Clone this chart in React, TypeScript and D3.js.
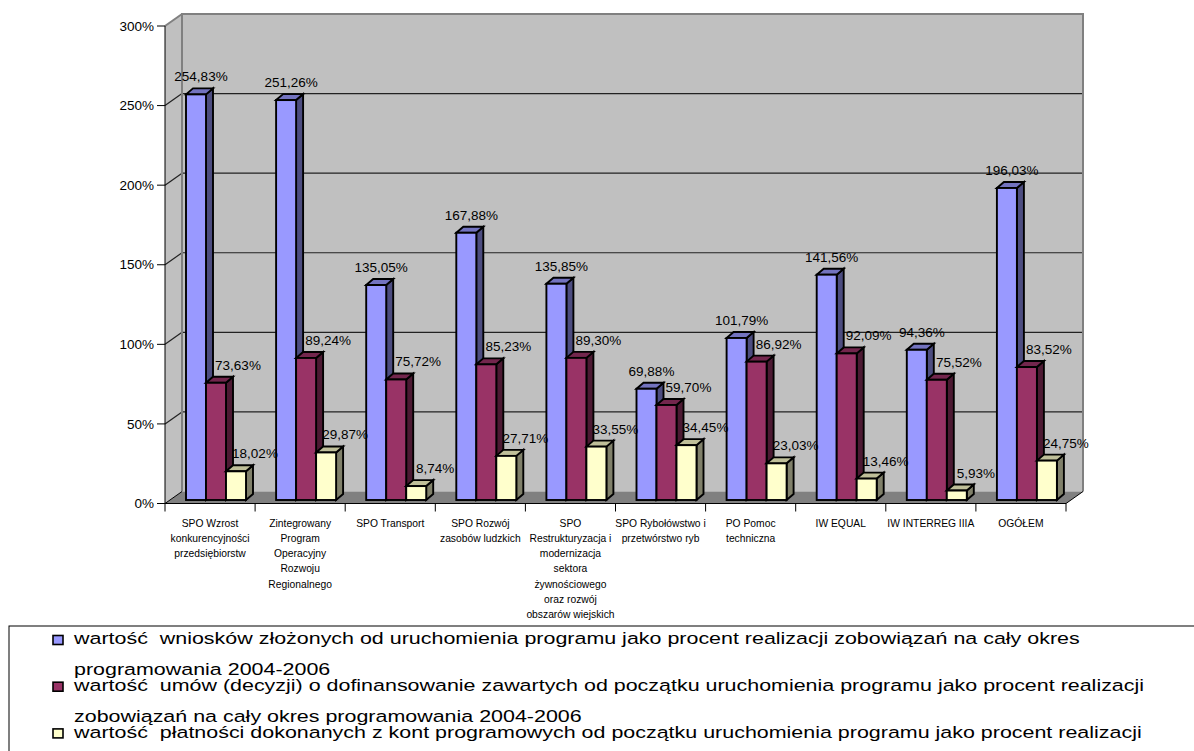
import React from 'react';
import * as d3 from 'd3';

// ---------- data ----------
const categories: string[][] = [
  ['SPO Wzrost', 'konkurencyjności', 'przedsiębiorstw'],
  ['Zintegrowany', 'Program', 'Operacyjny', 'Rozwoju', 'Regionalnego'],
  ['SPO Transport'],
  ['SPO Rozwój', 'zasobów ludzkich'],
  ['SPO', 'Restrukturyzacja i', 'modernizacja', 'sektora', 'żywnościowego', 'oraz rozwój', 'obszarów wiejskich'],
  ['SPO Rybołówstwo i', 'przetwórstwo ryb'],
  ['PO Pomoc', 'techniczna'],
  ['IW EQUAL'],
  ['IW INTERREG IIIA'],
  ['OGÓŁEM'],
];

const wnioski = [254.83, 251.26, 135.05, 167.88, 135.85, 69.88, 101.79, 141.56, 94.36, 196.03];
const umowy = [73.63, 89.24, 75.72, 85.23, 89.3, 59.7, 86.92, 92.09, 75.52, 83.52];
const platnosci = [18.02, 29.87, 8.74, 27.71, 33.55, 34.45, 23.03, 13.46, 5.93, 24.75];

const yTicks = [0, 50, 100, 150, 200, 250, 300];

const legendLines: string[][] = [
  ['wartość  wniosków złożonych od uruchomienia programu jako procent realizacji zobowiązań na cały okres', 'programowania 2004-2006'],
  ['wartość  umów (decyzji) o dofinansowanie zawartych od początku uruchomienia programu jako procent realizacji', 'zobowiązań na cały okres programowania 2004-2006'],
  ['wartość  płatności dokonanych z kont programowych od początku uruchomienia programu jako procent realizacji'],
];

// ---------- styles ----------
const seriesStyles = [
  { front: '#9999FF', top: '#7373BF', side: '#4D4D80', labelDx: 5 },
  { front: '#993366', top: '#73264D', side: '#4D1A33', labelDx: 22 },
  { front: '#FFFFCC', top: '#BFBF99', side: '#80806A', labelDx: 19 },
];

const W = 1194;
const H = 751;
const X0 = 165;
const X1 = 1066;
const DX = 17;
const DY = 12;
const Y_TOP = 26;
const Y_BASE = 503.5;
const BAR_BASE = 500;
const BDX = 7;
const BDY = 6;
const FONT = '"Liberation Sans", Arial, Helvetica, sans-serif';

export default function App() {
  const series = [wnioski, umowy, platnosci];
  const idx = d3.range(categories.length);
  const x = d3.scaleBand<number>().domain(idx).range([X0, X1]).padding(0);
  const yAxis = d3.scaleLinear().domain([0, 300]).range([Y_BASE, Y_TOP]);
  const yBar = d3.scaleLinear().domain([0, 300]).range([BAR_BASE, BAR_BASE - (Y_BASE - Y_TOP)]);
  const inner = d3.scaleBand<number>().domain([0, 1, 2]).range([21, 81]).padding(0);
  const bw = inner.bandwidth();
  const fmt = (v: number) => d3.format('.2f')(v).replace('.', ',') + '%';

  const backTop = Y_TOP - DY;
  const backBottom = Y_BASE - DY;
  const backLeft = X0 + DX;
  const backRight = X1 + DX;

  const bars: React.ReactNode[] = [];
  const labels: React.ReactNode[] = [];
  idx.forEach((i) => {
    series.forEach((vals, s) => {
      const v = vals[i];
      const st = seriesStyles[s];
      const xl = (x(i) as number) + (inner(s) as number);
      const yt = yBar(v);
      const yb = BAR_BASE;
      const topPts = [
        [xl, yt],
        [xl + BDX, yt - BDY],
        [xl + bw + BDX, yt - BDY],
        [xl + bw, yt],
      ];
      const sidePts = [
        [xl + bw, yt],
        [xl + bw + BDX, yt - BDY],
        [xl + bw + BDX, yb - BDY],
        [xl + bw, yb],
      ];
      bars.push(
        <g key={`b-${i}-${s}`} stroke="#000" strokeWidth={1.9} strokeLinejoin="miter">
          <polygon points={sidePts.map((p) => p.join(',')).join(' ')} fill={st.side} />
          <polygon points={topPts.map((p) => p.join(',')).join(' ')} fill={st.top} />
          <rect x={xl} y={yt} width={bw} height={yb - yt} fill={st.front} />
        </g>
      );
      labels.push(
        <text
          key={`l-${i}-${s}`}
          x={xl + bw / 2 + st.labelDx}
          y={yt - 13}
          textAnchor="middle"
          fontSize={13.5}
          fill="#000"
        >
          {fmt(v)}
        </text>
      );
    });
  });

  return (
    <svg
      width={W}
      height={H}
      viewBox={`0 0 ${W} ${H}`}
      style={{ position: 'absolute', left: 0, top: 0, background: '#fff' }}
      fontFamily={FONT}
    >
      <rect x={0} y={0} width={W} height={H} fill="#fff" />

      {/* left wall */}
      <polygon
        points={`${X0},${Y_TOP} ${backLeft},${backTop} ${backLeft},${backBottom} ${X0},${Y_BASE}`}
        fill="#C0C0C0"
      />
      {/* back wall */}
      <rect x={backLeft} y={backTop} width={backRight - backLeft} height={backBottom - backTop} fill="#C0C0C0" />
      {/* floor */}
      <polygon
        points={`${X0},${Y_BASE} ${backLeft},${backBottom} ${backRight},${backBottom} ${X1},${Y_BASE}`}
        fill="#808080"
      />

      {/* gridlines */}
      {yTicks
        .filter((t) => t > 0 && t < 300)
        .map((t) => (
          <g key={`g-${t}`} stroke="#222" strokeWidth={1.2}>
            <line x1={X0} y1={yAxis(t)} x2={backLeft} y2={yAxis(t) - DY} />
            <line x1={backLeft} y1={yAxis(t) - DY} x2={backRight} y2={yAxis(t) - DY} />
          </g>
        ))}

      {/* wall borders */}
      <g stroke="#808080" strokeWidth={2} fill="none">
        <line x1={X0} y1={Y_TOP} x2={backLeft} y2={backTop} />
        <polyline points={`${backLeft},${backBottom} ${backLeft},${backTop} ${backRight},${backTop} ${backRight},${backBottom}`} />
      </g>
      <line x1={X1} y1={Y_BASE} x2={backRight} y2={backBottom} stroke="#000" strokeWidth={1} />
      <line x1={X0} y1={Y_BASE} x2={backLeft} y2={backBottom} stroke="#000" strokeWidth={1} />

      {/* y axis */}
      <line x1={X0} y1={Y_TOP} x2={X0} y2={Y_BASE} stroke="#000" strokeWidth={1} />
      {yTicks.map((t) => (
        <g key={`yt-${t}`}>
          <line x1={X0 - 8} y1={yAxis(t)} x2={X0} y2={yAxis(t)} stroke="#000" strokeWidth={1} />
          <text x={X0 - 11} y={yAxis(t)} dy="0.35em" textAnchor="end" fontSize={13.5} fill="#000">
            {t}%
          </text>
        </g>
      ))}

      {/* x axis */}
      <line x1={X0} y1={Y_BASE} x2={X1} y2={Y_BASE} stroke="#000" strokeWidth={1} />
      {d3.range(categories.length + 1).map((k) => {
        const xx = k < categories.length ? (x(k) as number) : X1;
        return <line key={`xt-${k}`} x1={xx} y1={Y_BASE} x2={xx} y2={Y_BASE + 8} stroke="#000" strokeWidth={1} />;
      })}

      {bars}
      {labels}

      {/* category labels */}
      {idx.map((i) => (
        <text key={`c-${i}`} textAnchor="middle" fontSize={10.3} fill="#000">
          {categories[i].map((ln, k) => (
            <tspan key={k} x={(x(i) as number) + x.bandwidth() / 2} y={526.5 + k * 15.3}>
              {ln}
            </tspan>
          ))}
        </text>
      ))}

      {/* legend */}
      <rect x={9} y={626} width={1400} height={300} fill="#fff" stroke="#000" strokeWidth={1} />
      {legendLines.map((lines, k) => {
        const base = 644.3 + k * 46.7;
        return (
          <g key={`lg-${k}`}>
            <rect x={53} y={base - 8.8} width={10} height={9} fill={seriesStyles[k].front} stroke="#000" strokeWidth={1.6} />
            {lines.map((ln, j) => (
              <text
                key={j}
                transform={`translate(74, ${base + j * 31}) scale(1.3, 1)`}
                fontSize={16.5}
                fill="#000"
                style={{ whiteSpace: 'pre' }}
              >
                {ln}
              </text>
            ))}
          </g>
        );
      })}
    </svg>
  );
}
